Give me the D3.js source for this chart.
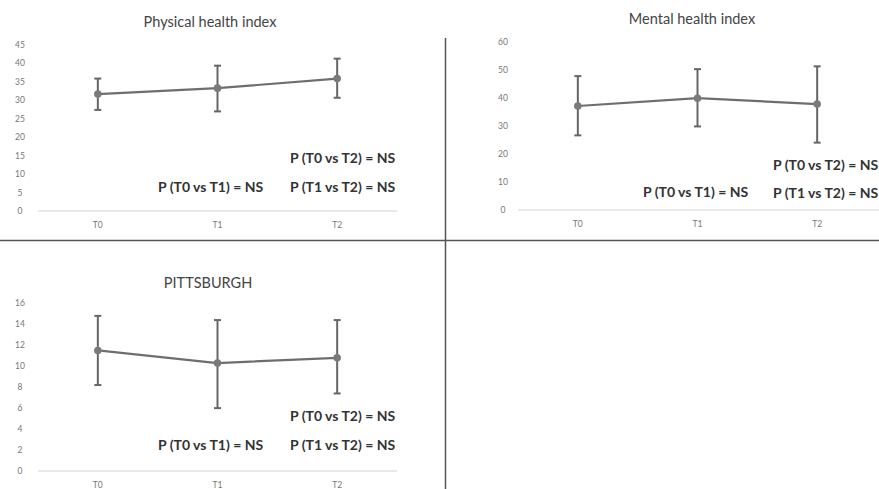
<!DOCTYPE html>
<html>
<head>
<meta charset="utf-8">
<script src="https://cdn.jsdelivr.net/npm/d3@7"></script>
<style>
  body { margin: 0; background: #fff; }
  svg { display: block; font-family: Lato, "Open Sans", sans-serif; }
</style>
</head>
<body>
<svg id="chart" width="879" height="489"></svg>
<script>
// categories shared by all three panels
var times = ["T0", "T1", "T2"];

// Physical health index
var physMean = [31.7, 33.3, 35.9];
var physLow  = [27.4, 27.0, 30.7];
var physHigh = [35.9, 39.4, 41.3];
var physTicks = [0, 5, 10, 15, 20, 25, 30, 35, 40, 45];

// Mental health index
var mentMean = [37.2, 40.0, 37.9];
var mentLow  = [26.7, 29.9, 24.1];
var mentHigh = [47.9, 50.4, 51.4];
var mentTicks = [0, 10, 20, 30, 40, 50, 60];

// PITTSBURGH
var pittMean = [11.5, 10.3, 10.8];
var pittLow  = [8.2, 6.0, 7.4];
var pittHigh = [14.8, 14.4, 14.4];
var pittTicks = [0, 2, 4, 6, 8, 10, 12, 14, 16];

var pLabels = ["P (T0 vs T2) = NS", "P (T1 vs T2) = NS", "P (T0 vs T1) = NS"];

var svg = d3.select("#chart");

// panel layout
var panels = [
  { title: "Physical health index", mean: physMean, lo: physLow, hi: physHigh, ticks: physTicks,
    x0: 38, x1: 397, y0: 211, y1: 45, labX: 20, titleX: 210, titleY: 27,
    ann: [[290, 163], [290, 192], [158, 192]] },
  { title: "Mental health index", mean: mentMean, lo: mentLow, hi: mentHigh, ticks: mentTicks,
    x0: 518, x1: 879, y0: 210, y1: 42.3, labX: 503, titleX: 692, titleY: 24,
    ann: [[773, 170], [773, 198], [643, 197]] },
  { title: "PITTSBURGH", mean: pittMean, lo: pittLow, hi: pittHigh, ticks: pittTicks,
    x0: 38, x1: 397, y0: 471, y1: 303.3, labX: 20, titleX: 208, titleY: 288,
    ann: [[290, 421], [290, 450], [158, 450]] }
];

// the two divider rules
svg.append("line").attr("x1", 0).attr("x2", 879).attr("y1", 240.5).attr("y2", 240.5)
  .attr("stroke", "#555").attr("stroke-width", 1.5);
svg.append("line").attr("x1", 445.5).attr("x2", 445.5).attr("y1", 38).attr("y2", 489)
  .attr("stroke", "#555").attr("stroke-width", 1.5);

panels.forEach(function(p) {
  var g = svg.append("g");
  var maxT = p.ticks[p.ticks.length - 1];
  var y = d3.scaleLinear().domain([0, maxT]).range([p.y0, p.y1]);
  // centres of the categories, spread like excel does
  var span = (p.x1 - p.x0);
  if (p.x1 == 879) span = 359;
  var x = d3.scalePoint().domain(times).range([p.x0 + span / 6, p.x0 + span * 5 / 6]);

  // y tick labels
  g.selectAll(".yl").data(p.ticks).enter().append("text")
    .attr("x", p.labX).attr("y", function(d) { return y(d) + 3; })
    .attr("text-anchor", "middle").attr("font-size", 8.5).attr("fill", "#777")
    .text(function(d) { return d; });

  // base line
  g.append("line").attr("x1", p.x0).attr("x2", p.x1).attr("y1", p.y0).attr("y2", p.y0)
    .attr("stroke", "#d4d4d4").attr("stroke-width", 1);

  // x labels
  g.selectAll(".xl").data(times).enter().append("text")
    .attr("x", function(d) { return x(d); }).attr("y", p.y0 + 17)
    .attr("text-anchor", "middle").attr("font-size", 8.5).attr("fill", "#777")
    .text(function(d) { return d; });

  // title
  g.append("text").attr("x", p.titleX).attr("y", p.titleY).attr("text-anchor", "middle")
    .attr("font-size", 14.5).attr("fill", "#444").text(p.title);

  // error bars
  times.forEach(function(t, i) {
    var cx = x(t);
    g.append("line").attr("x1", cx).attr("x2", cx).attr("y1", y(p.lo[i])).attr("y2", y(p.hi[i]))
      .attr("stroke", "#666").attr("stroke-width", 2);
    [p.lo[i], p.hi[i]].forEach(function(v) {
      g.append("line").attr("x1", cx - 3.5).attr("x2", cx + 3.5).attr("y1", y(v)).attr("y2", y(v))
        .attr("stroke", "#666").attr("stroke-width", 2);
    });
  });

  var line = d3.line().x(function(d, i) { return x(times[i]); }).y(function(d) { return y(d); });
  g.append("path").attr("d", line(p.mean)).attr("fill", "none")
    .attr("stroke", "#6e6e6e").attr("stroke-width", 2.2);

  g.selectAll(".pt").data(p.mean).enter().append("circle")
    .attr("cx", function(d, i) { return x(times[i]); }).attr("cy", function(d) { return y(d); })
    .attr("r", 3.8).attr("fill", "#7a7a7a");

  // p-value notes
  p.ann.forEach(function(a, i) {
    g.append("text").attr("x", a[0]).attr("y", a[1]).attr("font-size", 14)
      .attr("font-weight", "bold").attr("fill", "#333").text(pLabels[i]);
  });
});
</script>
</body>
</html>
